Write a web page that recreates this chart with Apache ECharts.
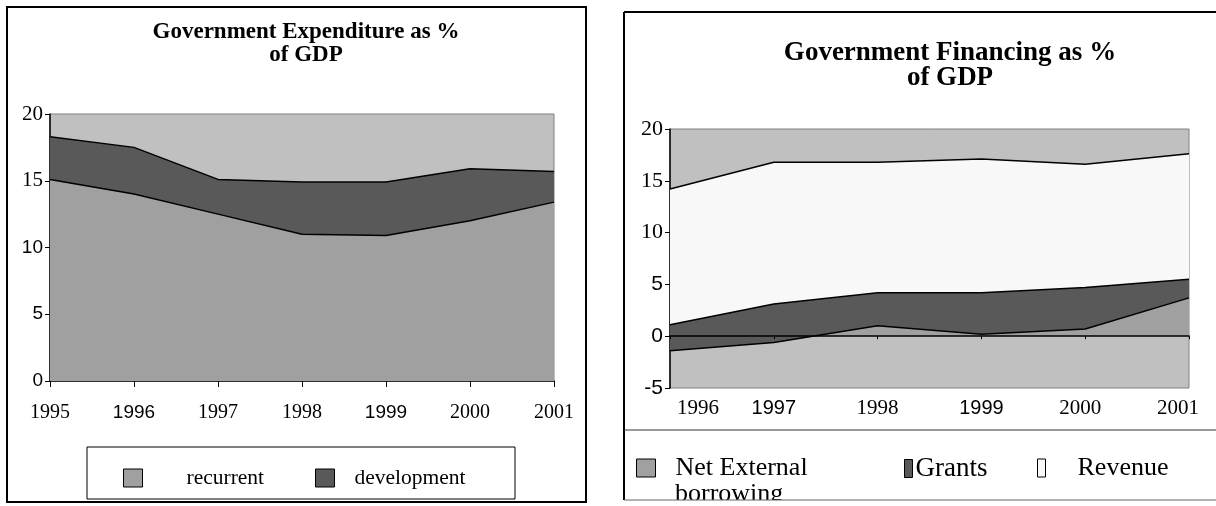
<!DOCTYPE html>
<html>
<head>
<meta charset="utf-8">
<script src="https://cdn.jsdelivr.net/npm/echarts@6/dist/echarts.min.js"></script>
<style>
html,body{margin:0;padding:0;background:#fff;}
#c{width:1216px;height:506px;}
</style>
</head>
<body>
<div id="c"></div>
<script>
// ---------- data ----------
const leftYears = ['1995', '1996', '1997', '1998', '1999', '2000', '2001'];
const recurrent = [15.1, 14.0, 12.5, 11.0, 10.9, 12.0, 13.4];
const development = [3.2, 3.5, 2.6, 3.9, 4.0, 3.9, 2.3];

const rightYears = ['1996', '1997', '1998', '1999', '2000', '2001'];
const netExternal = [-1.4, -0.6, 1.0, 0.2, 0.7, 3.7];
const grants = [2.5, 3.7, 3.2, 4.0, 4.0, 1.8];
const revenue = [13.1, 13.7, 12.6, 12.9, 11.9, 12.1];

const leftTitle = 'Government Expenditure as %\nof GDP';
const rightTitle = 'Government Financing as %\nof GDP';
const netExtLine1 = 'Net External';
const netExtLine2 = 'borrowing';

// ---------- styling (which tick labels are set in a sans face) ----------
const sansLeftX = ['1996', '1999'];
const sansRightX = ['1997', '1999'];
const sansLeftY = ['10', '5', '0'];
const sansRightY = ['5', '0', '-5'];

const SERIF = 'Liberation Serif';
const SANS = 'Liberation Sans';

function mixed(sansList, extra) {
  return function (v) {
    const s = String(v);
    const key = (extra && extra[s]) ? extra[s] : '';
    return (sansList.indexOf(s) >= 0 ? '{s' + key + '|' : '{t' + key + '|') + s + '}';
  };
}

const chart = echarts.init(document.getElementById('c'), null, {renderer: 'canvas'});

const richX = (sz, ssz) => ({
  t: {fontFamily: SERIF, fontSize: sz, color: '#000'},
  s: {fontFamily: SANS, fontSize: ssz, color: '#000'},
  tF: {fontFamily: SERIF, fontSize: sz, color: '#000', padding: [0, 0, 0, 56]},
  tL: {fontFamily: SERIF, fontSize: sz, color: '#000', padding: [0, 22, 0, 0]},
  tM: {fontFamily: SERIF, fontSize: sz, color: '#000', padding: [0, 10, 0, 0]}
});

const option = {
  animation: false,
  backgroundColor: '#fff',
  title: [
    {text: leftTitle, left: 301, top: 16, textAlign: 'center',
     textStyle: {fontFamily: SERIF, fontWeight: 'bold', fontSize: 23, lineHeight: 23, color: '#000'}},
    {text: rightTitle, left: 945, top: 36, textAlign: 'center',
     textStyle: {fontFamily: SERIF, fontWeight: 'bold', fontSize: 27, lineHeight: 25, color: '#000'}}
  ],
  grid: [
    {left: 50, top: 114, width: 504, height: 267, show: true,
     backgroundColor: '#c0c0c0', borderColor: '#808080', borderWidth: 1, containLabel: false},
    {left: 670, top: 129, width: 519, height: 259, show: true,
     backgroundColor: '#c0c0c0', borderColor: '#808080', borderWidth: 1, containLabel: false}
  ],
  xAxis: [
    {type: 'category', gridIndex: 0, data: leftYears, boundaryGap: false, position: 'bottom',
     axisLine: {lineStyle: {color: '#000', width: 1.5}},
     axisTick: {show: true, length: 6, lineStyle: {color: '#000'}, alignWithLabel: true},
     axisLabel: {interval: 0, margin: 22, formatter: mixed(sansLeftX), rich: richX(20, 19)},
     splitLine: {show: false}},
    {type: 'category', gridIndex: 1, data: rightYears, boundaryGap: false, position: 'bottom',
     axisLine: {onZero: true, lineStyle: {color: '#000', width: 1.5}},
     axisTick: {show: true, length: 3, lineStyle: {color: '#000'}},
     axisLabel: {show: false}, splitLine: {show: false}, z: 5},
    {type: 'category', gridIndex: 1, data: rightYears, boundaryGap: false, position: 'bottom',
     axisLine: {show: false, onZero: false}, axisTick: {show: false},
     axisLabel: {interval: 0, margin: 10,
       formatter: mixed(sansRightX, {'1996': 'F', '2001': 'L', '2000': 'M'}), rich: richX(21, 20)},
     splitLine: {show: false}}
  ],
  yAxis: [
    {type: 'value', gridIndex: 0, min: 0, max: 20, interval: 5,
     axisLine: {show: true, lineStyle: {color: '#000', width: 1.5}},
     axisTick: {show: true, length: 5, lineStyle: {color: '#000'}},
     axisLabel: {margin: 7, formatter: mixed(sansLeftY),
       rich: {t: {fontFamily: SERIF, fontSize: 21, color: '#000'}, s: {fontFamily: SANS, fontSize: 19, color: '#000'}}},
     splitLine: {show: false}},
    {type: 'value', gridIndex: 1, min: -5, max: 20, interval: 5,
     axisLine: {show: true, onZero: false, lineStyle: {color: '#000', width: 1.5}},
     axisTick: {show: true, length: 5, lineStyle: {color: '#000'}},
     axisLabel: {margin: 7, formatter: mixed(sansRightY),
       rich: {t: {fontFamily: SERIF, fontSize: 22, color: '#000'}, s: {fontFamily: SANS, fontSize: 21, color: '#000'}}},
     splitLine: {show: false}}
  ],
  legend: [
    {left: 118, top: 462, itemWidth: 19, itemHeight: 18, selectedMode: false,
     data: [{name: 'recurrent', icon: 'rect', itemStyle: {color: '#a0a0a0', borderColor: '#000', borderWidth: 1}}],
     textStyle: {fontFamily: SERIF, fontSize: 21.5, color: '#000', padding: [0, 0, 0, 39]}},
    {left: 310, top: 462, itemWidth: 19, itemHeight: 18, selectedMode: false,
     data: [{name: 'development', icon: 'rect', itemStyle: {color: '#595959', borderColor: '#000', borderWidth: 1}}],
     textStyle: {fontFamily: SERIF, fontSize: 21.5, color: '#000', padding: [0, 0, 0, 15]}},
    {left: 631, top: 450, itemWidth: 19, itemHeight: 18, selectedMode: false,
     data: [{name: 'Net External borrowing', icon: 'rect', itemStyle: {color: '#a0a0a0', borderColor: '#000', borderWidth: 1}}],
     formatter: function () { return netExtLine1; },
     textStyle: {fontFamily: SERIF, fontSize: 26, color: '#000', padding: [0, 0, 0, 15]}},
    {left: 899, top: 450, itemWidth: 8, itemHeight: 18, selectedMode: false,
     data: [{name: 'Grants', icon: 'rect', itemStyle: {color: '#595959', borderColor: '#000', borderWidth: 1}}],
     textStyle: {fontFamily: SERIF, fontSize: 27, color: '#000', padding: [0, 0, 0, -2]}},
    {left: 1032, top: 450, itemWidth: 8, itemHeight: 18, selectedMode: false,
     data: [{name: 'Revenue', icon: 'rect', itemStyle: {color: '#f8f8f8', borderColor: '#000', borderWidth: 1}}],
     textStyle: {fontFamily: SERIF, fontSize: 26, color: '#000', padding: [0, 0, 0, 27]}}
  ],
  series: [
    {name: 'recurrent', type: 'line', xAxisIndex: 0, yAxisIndex: 0, stack: 'L', data: recurrent,
     showSymbol: false, color: '#a0a0a0', lineStyle: {color: '#000', width: 1.5},
     areaStyle: {color: '#a0a0a0', opacity: 1}},
    {name: 'development', type: 'line', xAxisIndex: 0, yAxisIndex: 0, stack: 'L', data: development,
     showSymbol: false, color: '#595959', lineStyle: {color: '#000', width: 1.5},
     areaStyle: {color: '#595959', opacity: 1}},
    {name: 'Net External borrowing', type: 'line', xAxisIndex: 1, yAxisIndex: 1, stack: 'R', stackStrategy: 'all',
     data: netExternal, showSymbol: false, color: '#a0a0a0', lineStyle: {color: '#000', width: 1.5},
     areaStyle: {color: '#a0a0a0', opacity: 1}},
    {name: 'Grants', type: 'line', xAxisIndex: 1, yAxisIndex: 1, stack: 'R', stackStrategy: 'all',
     data: grants, showSymbol: false, color: '#595959', lineStyle: {color: '#000', width: 1.5},
     areaStyle: {color: '#595959', opacity: 1}},
    {name: 'Revenue', type: 'line', xAxisIndex: 1, yAxisIndex: 1, stack: 'R', stackStrategy: 'all',
     data: revenue, showSymbol: false, color: '#f8f8f8', lineStyle: {color: '#000', width: 1.5},
     areaStyle: {color: '#f8f8f8', opacity: 1}}
  ],
  graphic: [
    // left frame and legend box
    {type: 'rect', shape: {x: 7, y: 7, width: 579, height: 495}, style: {fill: null, stroke: '#000', lineWidth: 2}, z: 1, silent: true},
    {type: 'rect', shape: {x: 87, y: 447, width: 428, height: 52}, style: {fill: null, stroke: '#000', lineWidth: 1}, z: 1, silent: true},
    // right frame
    {type: 'line', shape: {x1: 624, y1: 12, x2: 1216, y2: 12}, style: {stroke: '#000', lineWidth: 2}, z: 1, silent: true},
    {type: 'line', shape: {x1: 624, y1: 12, x2: 624, y2: 500}, style: {stroke: '#000', lineWidth: 2}, z: 1, silent: true},
    {type: 'line', shape: {x1: 624, y1: 430, x2: 1216, y2: 430}, style: {stroke: '#333', lineWidth: 1}, z: 1, silent: true},
    // second line of the "Net External borrowing" legend entry
    {type: 'text', x: 675, y: 494, style: {text: netExtLine2, fontFamily: SERIF, fontSize: 26, fill: '#000',
      textVerticalAlign: 'middle', verticalAlign: 'middle'}, z: 50, silent: true},
    {type: 'rect', shape: {x: 625, y: 500, width: 600, height: 10}, style: {fill: '#fff'}, z: 100, silent: true},
    {type: 'line', shape: {x1: 624, y1: 500, x2: 1216, y2: 500}, style: {stroke: '#666', lineWidth: 1}, z: 101, silent: true}
  ]
};
chart.setOption(option);
</script>
</body>
</html>
